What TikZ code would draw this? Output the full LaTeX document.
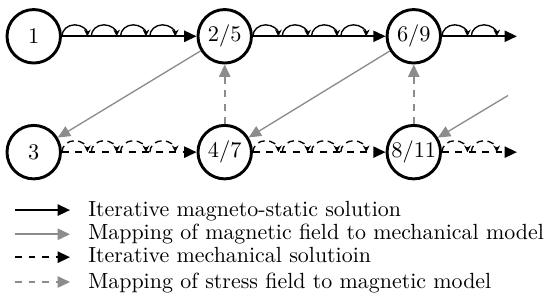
\documentclass[tikz,border=0pt]{standalone}
\usepackage{amsmath}
\usetikzlibrary{calc, positioning, arrows.meta}

\begin{document}
\begin{tikzpicture}[
  state/.style={circle, draw, line width=1.3pt, minimum size=0.84cm, inner sep=0pt},
  magnet/.style={thick, -{Triangle[length=5.5pt,width=5pt]}},
  mapping/.style={thick, black!45, -{Triangle[length=5.5pt,width=5pt]}},
  hop/.style={semithick, -{Stealth[length=3pt,width=3pt]}},
  legend/.style={anchor=base west, inner sep=0pt, font=\fontsize{9.8}{12}\selectfont},
  ]
\useasboundingbox (0,0) rectangle (8.64,4.73);
% Draw states
\node[state] (n1) at (0.53,4.16) {$1$};
\node[state] (n25) at (3.53,4.16) {$2/5$};
\node[state] (n69) at (6.50,4.16) {$6/9$};
\node[state] (n3) at (0.53,2.34) {$3$};
\node[state] (n47) at (3.53,2.34) {$4/7$};
\node[state] (n811) at (6.50,2.34) {$8/11$};
\coordinate (endtop) at (8.12,4.16);
\coordinate (endbot) at (8.12,2.34);
\coordinate (incoming) at (7.98,3.23);
% Magneto-static iterations
\draw[magnet] (n1) -- (n25);
\draw[magnet] (n25) -- (n69);
\draw[magnet] (n69) -- (endtop);
\foreach \n/\k in {n1/3, n25/3, n69/1}
  \foreach \i in {0,...,\k}
    \draw[hop] ([xshift=\i*0.46cm]\n.east) arc (180:0:0.2 and 0.18);
% Mechanical iterations
\draw[magnet, dashed] (n3) -- (n47);
\draw[magnet, dashed] (n47) -- (n811);
\draw[magnet, dashed] (n811) -- (endbot);
\foreach \n/\k in {n3/3, n47/3, n811/1}
  \foreach \i in {0,...,\k}
    \draw[hop, densely dashed] ([xshift=\i*0.46cm]\n.east) arc (180:0:0.2 and 0.18);
% Mapping magnetic field to mechanical model
\draw[mapping, semithick] (n25) -- (n3);
\draw[mapping, semithick] (n69) -- (n47);
\draw[mapping, semithick] (incoming) -- (n811);
% Mapping stress field to magnetic model
\draw[mapping, dashed] (n47) -- (n25);
\draw[mapping, dashed] (n811) -- (n69);
% Legend
\coordinate (la) at (0.24,1.43); \coordinate (lb) at (1.10,1.43);
\coordinate (lc) at (0.24,1.05); \coordinate (ld) at (1.10,1.05);
\coordinate (le) at (0.24,0.69); \coordinate (lf) at (1.10,0.69);
\coordinate (lg) at (0.24,0.30); \coordinate (lh) at (1.10,0.30);
\draw[magnet] (la) -- (lb);
\draw[mapping] (lc) -- (ld);
\draw[magnet, dashed] (le) -- (lf);
\draw[mapping, dashed] (lg) -- (lh);
\node[legend] (t1) at (1.38,1.33) {Iterative magneto-static solution};
\node[legend] (t2) at (1.38,0.96) {Mapping of magnetic field to mechanical model};
\node[legend] (t3) at (1.38,0.60) {Iterative mechanical solutioin};
\node[legend] (t4) at (1.38,0.20) {Mapping of stress field to magnetic model};
\end{tikzpicture}
\end{document}
